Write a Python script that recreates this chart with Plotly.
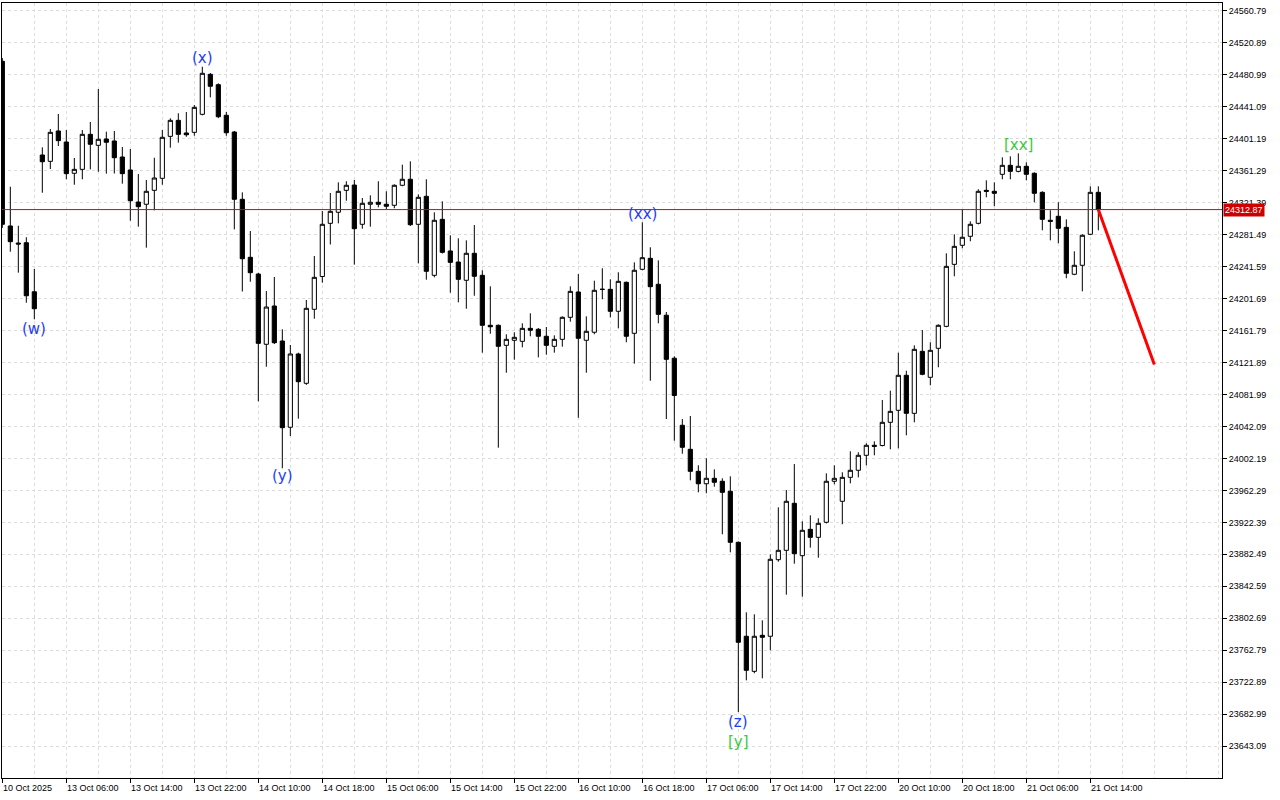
import plotly.graph_objects as go

# ---- data (hourly candles) ----
opens = [24498.0, 24292.4, 24271.1, 24271.5, 24210.3, 24381.0, 24373.1, 24411.0, 24397.2, 24358.2,
         24363.1, 24406.8, 24393.1, 24401.0, 24398.5, 24378.5, 24362.3, 24322.3, 24319.5, 24336.9,
         24351.9, 24404.3, 24424.3, 24408.5, 24409.3, 24431.8, 24481.7, 24468.8, 24430.6, 24409.7,
         24325.7, 24253.3, 24232.4, 24144.7, 24192.5, 24148.8, 24041.1, 24132.6, 24096.0, 24188.4,
         24229.3, 24295.7, 24309.5, 24336.9, 24343.5, 24294.5, 24319.5, 24322.0, 24319.5, 24318.2,
         24343.2, 24350.7, 24294.5, 24329.4, 24230.8, 24300.7, 24261.2, 24247.4, 24224.6, 24258.3,
         24230.8, 24168.4, 24168.4, 24143.4, 24149.7, 24148.4, 24164.6, 24163.4, 24154.7, 24142.2,
         24150.9, 24178.4, 24210.0, 24149.7, 24159.7, 24213.3, 24213.3, 24185.9, 24222.1, 24158.4,
         24238.3, 24252.0, 24219.6, 24181.0, 24127.3, 24043.6, 24013.6, 23986.1, 23970.6, 23977.4,
         23973.7, 23961.2, 23897.5, 23780.2, 23736.4, 23781.4, 23780.2, 23875.8, 23887.5, 23946.2,
         23880.8, 23913.7, 23903.7, 23922.5, 23973.7, 23948.7, 23978.6, 23987.4, 24006.1, 24018.6,
         24018.3, 24047.3, 24062.3, 24106.0, 24058.5, 24135.9, 24103.5, 24139.7, 24167.1, 24244.5,
         24268.3, 24279.5, 24295.7, 24336.9, 24335.7, 24356.9, 24368.1, 24360.6, 24366.9, 24358.2,
         24334.4, 24299.5, 24304.5, 24290.7, 24232.1, 24243.3, 24282.0, 24334.4]
highs = [24502.0, 24341.4, 24292.7, 24278.3, 24238.7, 24390.6, 24413.5, 24432.2, 24412.2, 24377.3,
         24412.2, 24422.2, 24463.4, 24410.1, 24411.0, 24391.0, 24388.5, 24357.3, 24349.8, 24377.6,
         24412.2, 24426.8, 24433.1, 24434.7, 24443.4, 24491.2, 24483.4, 24470.5, 24434.7, 24411.0,
         24334.4, 24286.1, 24234.0, 24211.2, 24228.7, 24163.4, 24143.8, 24134.2, 24200.0, 24254.9,
         24311.1, 24333.6, 24346.9, 24348.2, 24349.8, 24327.3, 24330.7, 24348.2, 24335.7, 24344.4,
         24368.9, 24373.1, 24331.9, 24350.7, 24309.5, 24323.2, 24280.8, 24277.0, 24274.5, 24293.6,
         24237.1, 24217.1, 24169.5, 24157.2, 24159.7, 24170.9, 24183.4, 24165.0, 24166.3, 24155.9,
         24179.6, 24217.1, 24232.4, 24179.6, 24224.1, 24239.6, 24225.8, 24234.6, 24223.0, 24247.0,
         24297.0, 24265.8, 24249.5, 24185.0, 24129.7, 24051.4, 24055.2, 23993.6, 24002.4, 23988.6,
         23977.4, 23979.9, 23898.5, 23810.1, 23807.6, 23800.1, 23882.5, 23941.2, 23962.8, 23995.2,
         23923.7, 23931.2, 23927.5, 23983.6, 23993.6, 23984.9, 24011.1, 24009.9, 24021.1, 24023.6,
         24075.1, 24086.8, 24134.2, 24111.7, 24143.4, 24162.5, 24147.2, 24169.6, 24258.3, 24282.0,
         24313.2, 24298.2, 24338.2, 24349.4, 24346.9, 24378.1, 24379.4, 24383.1, 24371.9, 24359.4,
         24335.7, 24312.0, 24322.0, 24300.7, 24260.8, 24282.0, 24341.9, 24341.9]
lows = [24290.0, 24260.3, 24234.1, 24196.6, 24175.9, 24333.9, 24363.5, 24392.2, 24350.7, 24343.9,
        24350.7, 24363.1, 24360.1, 24357.7, 24357.9, 24345.2, 24299.0, 24291.5, 24265.3, 24312.0,
        24343.9, 24390.1, 24396.4, 24403.8, 24405.1, 24430.5, 24453.0, 24427.0, 24405.1, 24288.2,
        24210.6, 24222.8, 24073.5, 24116.7, 24145.0, 23989.9, 24030.2, 24051.8, 24094.0, 24176.6,
        24221.6, 24269.3, 24295.7, 24323.9, 24244.1, 24289.0, 24291.5, 24315.7, 24313.2, 24314.5,
        24342.0, 24292.4, 24245.8, 24225.3, 24228.3, 24258.0, 24209.1, 24197.1, 24189.1, 24205.3,
        24134.2, 24157.9, 24015.6, 24109.2, 24125.5, 24140.9, 24154.7, 24128.4, 24131.7, 24134.2,
        24141.7, 24172.9, 24053.0, 24109.2, 24157.2, 24200.9, 24178.4, 24164.6, 24147.2, 24120.5,
        24237.0, 24099.2, 24170.9, 24051.4, 24024.3, 24008.1, 23974.9, 23959.9, 23958.7, 23966.9,
        23907.5, 23885.0, 23685.6, 23725.2, 23734.0, 23727.7, 23762.7, 23873.3, 23832.1, 23870.8,
        23829.6, 23890.8, 23878.3, 23921.0, 23969.9, 23920.0, 23971.1, 23978.6, 23993.6, 24006.1,
        24017.3, 24013.6, 24014.8, 24031.1, 24047.3, 24106.0, 24093.5, 24116.0, 24166.0, 24229.6,
        24264.5, 24273.3, 24294.5, 24328.2, 24317.0, 24350.7, 24350.7, 24359.4, 24349.4, 24322.0,
        24287.0, 24274.5, 24270.8, 24227.1, 24231.0, 24210.8, 24281.0, 24287.0]
closes = [24294.5, 24272.8, 24269.9, 24205.3, 24189.1, 24372.6, 24409.3, 24398.9, 24357.7, 24363.1,
          24406.8, 24394.4, 24400.6, 24396.9, 24377.6, 24357.7, 24323.9, 24316.5, 24335.7, 24352.3,
          24403.1, 24424.3, 24406.8, 24406.3, 24440.5, 24483.0, 24466.8, 24428.8, 24408.8, 24325.7,
          24251.5, 24234.1, 24145.9, 24191.2, 24146.7, 24040.6, 24132.6, 24098.0, 24189.6, 24228.3,
          24294.5, 24310.7, 24335.7, 24343.2, 24289.0, 24320.7, 24322.0, 24319.5, 24317.0, 24343.2,
          24350.7, 24294.0, 24328.2, 24235.8, 24299.5, 24259.5, 24247.0, 24225.8, 24258.3, 24229.6,
          24168.4, 24166.6, 24142.2, 24150.9, 24153.4, 24164.6, 24162.2, 24154.7, 24143.4, 24150.9,
          24178.4, 24210.8, 24152.2, 24160.9, 24212.1, 24213.3, 24185.9, 24223.3, 24154.7, 24237.1,
          24252.8, 24216.6, 24182.1, 24125.9, 24080.8, 24016.1, 23986.1, 23970.6, 23977.4, 23972.4,
          23959.9, 23897.5, 23772.7, 23737.7, 23780.2, 23778.9, 23876.3, 23887.5, 23948.7, 23883.3,
          23912.5, 23903.7, 23921.2, 23973.7, 23977.4, 23978.6, 23987.4, 24006.1, 24018.6, 24017.3,
          24047.3, 24061.0, 24106.0, 24058.5, 24138.4, 24107.2, 24137.2, 24168.4, 24242.0, 24267.0,
          24278.3, 24294.5, 24335.7, 24335.7, 24333.2, 24368.1, 24360.6, 24366.9, 24356.9, 24333.2,
          24300.7, 24298.2, 24289.5, 24233.3, 24243.3, 24280.8, 24334.4, 24312.87]

current_price = 24312.87
forecast_x = [137, 144]
forecast_y = [24312.87, 24119.5]

x_tick_idx = [0, 8, 16, 24, 32, 40, 48, 56, 64, 72, 80, 88, 96, 104, 112, 120, 128, 136]
x_tick_text = ["10 Oct 2025", "13 Oct 06:00", "13 Oct 14:00", "13 Oct 22:00", "14 Oct 10:00",
               "14 Oct 18:00", "15 Oct 06:00", "15 Oct 14:00", "15 Oct 22:00", "16 Oct 10:00",
               "16 Oct 18:00", "17 Oct 06:00", "17 Oct 14:00", "17 Oct 22:00", "20 Oct 10:00",
               "20 Oct 18:00", "21 Oct 06:00", "21 Oct 14:00"]
y_tick_text = ["24560.79", "24520.89", "24480.99", "24441.09", "24401.19", "24361.29", "24321.39",
               "24281.49", "24241.59", "24201.69", "24161.79", "24121.89", "24081.99", "24042.09",
               "24002.19", "23962.29", "23922.39", "23882.49", "23842.59", "23802.69", "23762.79",
               "23722.89", "23682.99", "23643.09"]

wave_text = ["(w)", "(x)", "(y)", "(xx)", "(z)", "[y]", "[xx]"]
wave_x = [4, 25, 35, 80, 92, 92, 127]
wave_y = [24163.8, 24502.1, 23980.3, 24307.3, 23673.2, 23648.2, 24393.5]
wave_color = ["#1E3CFF", "#1E3CFF", "#1E3CFF", "#1E3CFF", "#1E3CFF", "#3CC83C", "#3CC83C"]

# ---- figure ----
idx = list(range(len(opens)))
fig = go.Figure()
fig.add_trace(go.Candlestick(
    x=idx, open=opens, high=highs, low=lows, close=closes,
    increasing=dict(fillcolor="white", line=dict(color="black", width=1)),
    decreasing=dict(fillcolor="black", line=dict(color="black", width=1)),
    whiskerwidth=0, hoverinfo="skip", showlegend=False))

fig.add_trace(go.Scatter(x=forecast_x, y=forecast_y, mode="lines",
                         line=dict(color="#FF0000", width=3), hoverinfo="skip", showlegend=False))

fig.add_shape(type="line", xref="paper", x0=0, x1=1, yref="y", y0=current_price, y1=current_price,
              line=dict(color="#E00000", width=1))

fig.add_annotation(xref="paper", x=1, xanchor="left", xshift=1, yref="y", y=current_price,
                   yanchor="middle", text="%.2f" % current_price, showarrow=False,
                   bgcolor="#CC0000", font=dict(family="Liberation Sans", size=9, color="white"),
                   borderpad=1)

for t, xv, yv, c in zip(wave_text, wave_x, wave_y, wave_color):
    fig.add_annotation(x=xv, y=yv, text=t, showarrow=False,
                       font=dict(family="DejaVu Sans", size=15, color=c))

for xi, t in zip(x_tick_idx, x_tick_text):
    fig.add_annotation(x=xi, xref="x", y=0, yref="paper", yanchor="top", yshift=-3,
                       xanchor="left", xshift=-1, text=t, showarrow=False,
                       font=dict(family="Liberation Sans", size=9, color="black"))

y_tick_vals = [float(s) for s in y_tick_text]
grid_col = "#DDDDDD"

fig.update_layout(
    width=1280, height=800, autosize=False,
    margin=dict(l=2, r=58, t=3, b=22),
    paper_bgcolor="white", plot_bgcolor="white",
    showlegend=False, hovermode=False,
    boxgap=0.25, boxgroupgap=0.3,
    xaxis=dict(range=[-0.04, 152.46], rangeslider=dict(visible=False),
               tickmode="array", tickvals=x_tick_idx, ticktext=[""] * len(x_tick_idx),
               showticklabels=False, ticks="outside", ticklen=4, tickcolor="black",
               showgrid=True, gridcolor=grid_col, griddash="3px,3px", gridwidth=1,
               minor=dict(tick0=0, dtick=4, showgrid=True, gridcolor=grid_col,
                          griddash="3px,3px", ticks=""),
               showline=True, linecolor="black", linewidth=1, mirror=True, zeroline=False,
               fixedrange=True),
    yaxis=dict(range=[23603.26, 24570.77], side="right",
               tickmode="array", tickvals=y_tick_vals, ticktext=y_tick_text,
               ticks="outside", ticklen=4, tickcolor="black",
               tickfont=dict(family="Liberation Sans", size=9, color="black"),
               showgrid=True, gridcolor=grid_col, griddash="3px,3px", gridwidth=1,
               showline=True, linecolor="black", linewidth=1, mirror=True, zeroline=False,
               fixedrange=True),
)

fig.write_html("out.html", config={"displayModeBar": False},
               post_script="document.body.style.margin='0px';")
